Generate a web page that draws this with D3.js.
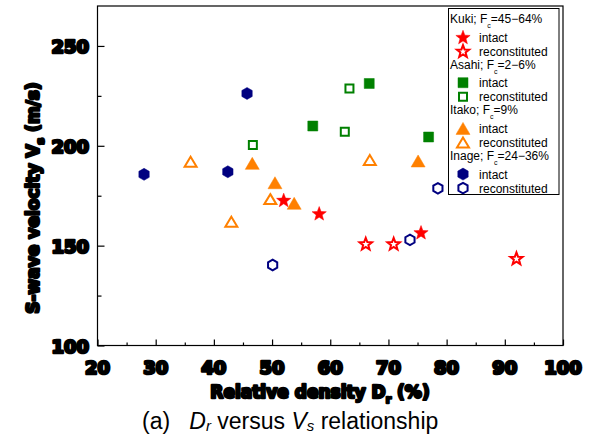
<!DOCTYPE html>
<html>
<head>
<meta charset="utf-8">
<script src="https://cdn.jsdelivr.net/npm/d3@7"></script>
<style>
  body { margin: 0; background: #fff; }
  .tick-lbl, .ax-title { font-family: "DejaVu Sans", sans-serif; font-weight: bold; fill: #000; stroke: #000; stroke-linejoin: round; }
  .leg { font-family: "Liberation Sans", Arial, sans-serif; font-size: 12px; }
</style>
</head>
<body>
<div id="chart"></div>
<script>
// Dr (%) vs Vs (m/s)
const kukiIntact   = [[52.0, 172.9], [58.1, 166.2], [75.6, 156.7]];
const kukiRecon    = [[66.1, 151.0], [70.9, 151.0], [92.0, 143.7]];
const asahiIntact  = [[57.0, 209.9], [66.7, 231.2], [76.9, 204.4]];
const asahiRecon   = [[46.7, 200.4], [62.5, 207.0], [63.3, 228.7]];
const itakoIntact  = [[46.6, 191.2], [50.5, 181.5], [53.8, 171.2], [75.1, 192.4]];
const itakoRecon   = [[36.0, 192.0], [43.0, 162.0], [49.7, 173.3], [66.8, 192.9]];
const inageIntact  = [[28.0, 185.7], [42.4, 187.0], [45.7, 226.2]];
const inageRecon   = [[50.1, 140.3], [73.7, 152.9], [78.5, 178.7]];

const xTicks = [20, 30, 40, 50, 60, 70, 80, 90, 100];
const yTicks = [100, 150, 200, 250];

const W = 591, H = 441;
const svg = d3.select("#chart").append("svg").attr("width", W).attr("height", H);

const x = d3.scaleLinear().domain([20, 100]).range([97.5, 563]);
const y = d3.scaleLinear().domain([100, 270]).range([345.5, 6]);

// marker shapes (centred on their bounding box)
function star(r) {
  const pts = [];
  for (let i = 0; i < 10; i++) {
    const a = -Math.PI / 2 + i * Math.PI / 5;
    const rr = i % 2 ? r * 0.42 : r;
    pts.push([rr * Math.cos(a), rr * Math.sin(a) + r * 0.1]);
  }
  return "M" + pts.join("L") + "Z";
}
function hex(r) {
  const pts = [];
  for (let i = 0; i < 6; i++) {
    const a = -Math.PI / 2 + i * Math.PI / 3;
    pts.push([r * Math.cos(a), r * Math.sin(a)]);
  }
  return "M" + pts.join("L") + "Z";
}
function tri(w, h) { return `M0,${-h/2}L${w/2},${h/2}L${-w/2},${h/2}Z`; }
function sq(s) { return `M${-s/2},${-s/2}h${s}v${s}h${-s}Z`; }

const series = [
  { data: kukiIntact,  color: "#ff0000", filled: true,  shape: () => star(7.5) },
  { data: kukiRecon,   color: "#ff0000", filled: false, shape: () => star(6.5) },
  { data: asahiIntact, color: "#008000", filled: true,  shape: () => sq(10) },
  { data: asahiRecon,  color: "#008000", filled: false, shape: () => sq(8) },
  { data: itakoIntact, color: "#ff8000", filled: true,  shape: () => tri(14, 12) },
  { data: itakoRecon,  color: "#ff8000", filled: false, shape: () => tri(12, 10) },
  { data: inageIntact, color: "#000080", filled: true,  shape: () => hex(6) },
  { data: inageRecon,  color: "#000080", filled: false, shape: () => hex(5.3) }
];

// frame
svg.append("rect").attr("x", x(20)).attr("y", y(270))
  .attr("width", x(100) - x(20)).attr("height", y(100) - y(270))
  .attr("fill", "none").attr("stroke", "#000").attr("stroke-width", 1.2);

// ticks (inward)
svg.append("g").attr("transform", `translate(0,${y(100)})`)
  .call(d3.axisBottom(x).tickValues(xTicks).tickSizeInner(-6).tickSizeOuter(0).tickFormat(""));
svg.append("g").attr("transform", `translate(0,${y(100)})`)
  .call(d3.axisBottom(x).tickValues(d3.range(25, 100, 10)).tickSizeInner(-3).tickSizeOuter(0).tickFormat(""));
svg.append("g").attr("transform", `translate(${x(20)},0)`)
  .call(d3.axisLeft(y).tickValues(yTicks).tickSizeInner(-7).tickSizeOuter(0).tickFormat(""));
svg.append("g").attr("transform", `translate(${x(20)},0)`)
  .call(d3.axisLeft(y).tickValues([125, 175, 225]).tickSizeInner(-4).tickSizeOuter(0).tickFormat(""));
svg.selectAll(".domain").remove();
svg.selectAll(".tick line").attr("stroke", "#000").attr("stroke-width", 1.2);

// tick labels
svg.append("g").selectAll("text").data(xTicks).join("text")
  .attr("class", "tick-lbl")
  .attr("x", d => x(d)).attr("y", 374)
  .attr("text-anchor", "middle")
  .attr("font-size", 18).attr("stroke-width", 2.6)
  .text(d => d);
svg.append("g").selectAll("text").data(yTicks).join("text")
  .attr("class", "tick-lbl")
  .attr("x", 89).attr("y", d => y(d) + 7)
  .attr("text-anchor", "end")
  .attr("font-size", 18).attr("stroke-width", 2.6)
  .text(d => d);

// axis titles
const xt = svg.append("text").attr("class", "ax-title")
  .attr("x", 320).attr("y", 398).attr("text-anchor", "middle")
  .attr("font-size", 17).attr("stroke-width", 2.4);
xt.append("tspan").text("Relative density D");
xt.append("tspan").attr("font-size", 11).attr("dy", 5).text("r");
xt.append("tspan").attr("dy", -5).text(" (%)");

const yt = svg.append("text").attr("class", "ax-title")
  .attr("transform", "translate(39,198) rotate(-90)").attr("text-anchor", "middle")
  .attr("font-size", 17).attr("stroke-width", 2.4);
yt.append("tspan").text("S-wave velocity V");
yt.append("tspan").attr("font-size", 11).attr("dy", 5).text("s");
yt.append("tspan").attr("dy", -5).text(" (m/s)");

// caption
const cap = svg.append("text").attr("x", 142).attr("y", 429)
  .attr("font-family", "Liberation Sans, Arial, sans-serif").attr("font-size", 23);
cap.append("tspan").text("(a)\u00a0\u00a0\u00a0");
cap.append("tspan").attr("font-style", "italic").text("D");
cap.append("tspan").attr("font-style", "italic").attr("font-size", 15).attr("dy", 2).text("r");
cap.append("tspan").attr("dy", -2).text(" versus ");
cap.append("tspan").attr("font-style", "italic").text("V");
cap.append("tspan").attr("font-style", "italic").attr("font-size", 15).attr("dy", 2).text("s");
cap.append("tspan").attr("dy", -2).text(" relationship");

// points
series.forEach(s => {
  svg.append("g").selectAll("path").data(s.data).join("path")
    .attr("transform", d => `translate(${x(d[0])},${y(d[1])})`)
    .attr("d", s.shape())
    .attr("fill", s.filled ? s.color : "#fff")
    .attr("stroke", s.color)
    .attr("stroke-width", s.filled ? 0.5 : 2);
});

// legend
const legendGroups = [
  { name: "Kuki; F", sub: "c", rng: "=45\u221264%", items: [series[0], series[1]] },
  { name: "Asahi; F", sub: "c", rng: "=2\u22126%", items: [series[2], series[3]] },
  { name: "Itako; F", sub: "c", rng: "=9%", items: [series[4], series[5]] },
  { name: "Inage; F", sub: "c", rng: "=24\u221236%", items: [series[6], series[7]] }
];
const leg = svg.append("g");
leg.append("rect").attr("x", 448.5).attr("y", 8.5).attr("width", 110.5).attr("height", 186)
  .attr("fill", "#fff").attr("stroke", "#000").attr("stroke-width", 1);
legendGroups.forEach((g, gi) => {
  const y0 = 19 + gi * 45.7;
  const t = leg.append("text").attr("class", "leg").attr("x", 450).attr("y", y0 + 4);
  t.append("tspan").text(g.name);
  t.append("tspan").attr("font-size", 7).attr("dy", 5).text(g.sub);
  t.append("tspan").attr("dy", -5).text(g.rng);
  ["intact", "reconstituted"].forEach((lab, i) => {
    const s = g.items[i];
    const yy = y0 + 18 + i * 14;
    leg.append("path").attr("transform", `translate(463,${yy})`).attr("d", s.shape())
      .attr("fill", s.filled ? s.color : "#fff").attr("stroke", s.color)
      .attr("stroke-width", s.filled ? 0.5 : 2);
    leg.append("text").attr("class", "leg").attr("x", 479).attr("y", yy + 4.5).text(lab);
  });
});
</script>
</body>
</html>
